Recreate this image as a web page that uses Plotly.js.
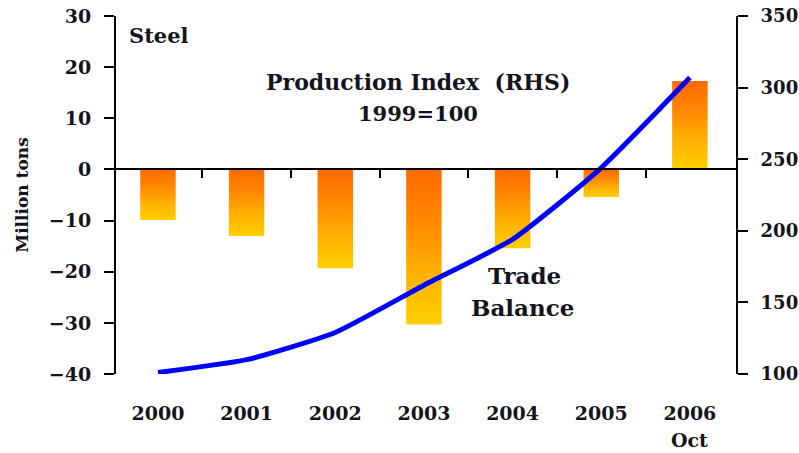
<!DOCTYPE html>
<html>
<head>
<meta charset="utf-8">
<script src="https://cdn.plot.ly/plotly-3.0.1.min.js"></script>
<style>
html,body{margin:0;padding:0;background:#fff;}
#chart{width:799px;height:453px;}
</style>
</head>
<body>
<div id="chart"></div>
<script>
// Data
const years = ["2000", "2001", "2002", "2003", "2004", "2005", "2006"];
const tradeBalance = [-9.9, -13.0, -19.3, -30.3, -15.4, -5.4, 17.3];      // Million tons (LHS)
const productionIndex = [101, 110, 129, 162, 194, 244, 307];               // 1999=100 (RHS)
const leftTicks = [-40, -30, -20, -10, 0, 10, 20, 30];
const rightTicks = [100, 150, 200, 250, 300, 350];
const boundaryTicks = [0.5, 1.5, 2.5, 3.5, 4.5, 5.5];

const FONT = "DejaVu Serif, Liberation Serif, serif";
const TXT = "#141420";

const traces = [
  {
    type: "bar",
    x: years,
    y: tradeBalance,
    width: 0.4,
    marker: {color: "#ff9a00", line: {width: 0}},
    xaxis: "x",
    yaxis: "y",
    hoverinfo: "skip"
  },
  {
    type: "scatter",
    mode: "lines",
    x: [0, 1, 2, 3, 4, 5, 6],
    y: productionIndex,
    line: {color: "#0000ff", width: 5, shape: "spline", smoothing: 0.5},
    xaxis: "x2",
    yaxis: "y2",
    hoverinfo: "skip"
  }
];

const xr = [-0.473, 6.52];
const tickFont = {family: FONT, size: 19, color: TXT, weight: "bold"};
const rightFont = {family: FONT, size: 18, color: TXT, weight: "bold"};
const annFont = function (s) { return {family: FONT, size: s, color: TXT, weight: "bold"}; };

const layout = {
  width: 799,
  height: 453,
  margin: {l: 116, r: 63, t: 16, b: 79, pad: 0},
  paper_bgcolor: "#ffffff",
  plot_bgcolor: "#ffffff",
  showlegend: false,
  xaxis: {
    type: "category",
    range: xr,
    showline: false,
    showgrid: false,
    zeroline: false,
    ticks: "",
    tickfont: tickFont,
    ticklabelstandoff: 26,
    fixedrange: true
  },
  xaxis2: {
    type: "linear",
    overlaying: "x",
    range: xr,
    anchor: "free",
    position: 40 / 70,
    showline: true,
    linecolor: "#000",
    linewidth: 2,
    showgrid: false,
    zeroline: false,
    tickmode: "array",
    tickvals: boundaryTicks,
    ticks: "outside",
    ticklen: 8,
    tickwidth: 2,
    tickcolor: "#000",
    showticklabels: false
  },
  yaxis: {
    range: [-40, 30],
    tickmode: "array",
    tickvals: leftTicks,
    showline: true,
    linecolor: "#000",
    linewidth: 2,
    ticks: "outside",
    ticklen: 10,
    tickwidth: 2,
    tickcolor: "#000",
    showgrid: false,
    zeroline: false,
    tickfont: tickFont,
    ticklabelstandoff: 9,
    title: {text: "Million tons", font: {family: FONT, size: 17, color: TXT, weight: "bold"}, standoff: 16}
  },
  yaxis2: {
    overlaying: "y",
    side: "right",
    anchor: "x",
    range: [100, 350],
    tickmode: "array",
    tickvals: rightTicks,
    showline: true,
    linecolor: "#000",
    linewidth: 2,
    ticks: "outside",
    ticklen: 10,
    tickwidth: 2,
    tickcolor: "#000",
    showgrid: false,
    zeroline: false,
    tickfont: rightFont,
    ticklabelstandoff: 9
  },
  yaxis3: {
    overlaying: "y",
    side: "right",
    anchor: "x",
    range: [100, 350],
    tickmode: "array",
    tickvals: rightTicks,
    showline: false,
    ticks: "inside",
    ticklen: 8,
    tickwidth: 2,
    tickcolor: "#000",
    showgrid: false,
    zeroline: false,
    showticklabels: false
  },
  annotations: [
    {text: "Steel", xref: "x", yref: "y", x: -0.35, y: 26.2, xanchor: "left", yanchor: "middle", showarrow: false, font: annFont(21)},
    {text: "Production Index  (RHS)", xref: "x", yref: "y", x: 2.93, y: 17.1, xanchor: "center", yanchor: "middle", showarrow: false, font: annFont(22)},
    {text: "1999=100", xref: "x", yref: "y", x: 2.93, y: 11.0, xanchor: "center", yanchor: "middle", showarrow: false, font: annFont(21)},
    {text: "Trade", xref: "x", yref: "y", x: 4.13, y: -20.7, xanchor: "center", yanchor: "middle", showarrow: false, font: annFont(23)},
    {text: "Balance", xref: "x", yref: "y", x: 4.11, y: -26.9, xanchor: "center", yanchor: "middle", showarrow: false, font: annFont(23)},
    {text: "Oct", xref: "x", yref: "paper", x: 6, y: 0, yshift: -66, xanchor: "center", yanchor: "middle", showarrow: false, font: annFont(19)}
  ]
};

function applyGradient(gd) {
  const svg = gd.querySelector("svg.main-svg");
  if (!svg) return;
  let defs = svg.querySelector("defs");
  if (!defs) {
    defs = document.createElementNS("http://www.w3.org/2000/svg", "defs");
    svg.insertBefore(defs, svg.firstChild);
  }
  if (!svg.querySelector("#barGrad")) {
    const g = document.createElementNS("http://www.w3.org/2000/svg", "linearGradient");
    g.setAttribute("id", "barGrad");
    g.setAttribute("x1", "0"); g.setAttribute("y1", "0");
    g.setAttribute("x2", "0"); g.setAttribute("y2", "1");
    [["0", "#ff6a00"], ["0.3", "#ff8400"], ["0.7", "#ffb400"], ["1", "#ffcf00"]].forEach(function (s) {
      const st = document.createElementNS("http://www.w3.org/2000/svg", "stop");
      st.setAttribute("offset", s[0]);
      st.setAttribute("stop-color", s[1]);
      g.appendChild(st);
    });
    defs.appendChild(g);
  }
  gd.querySelectorAll(".bars .point path").forEach(function (p) {
    p.style.fill = "url(#barGrad)";
  });
}

const gd = document.getElementById("chart");
Plotly.newPlot(gd, traces, layout, {staticPlot: true, displayModeBar: false}).then(function () {
  applyGradient(gd);
  gd.on("plotly_afterplot", function () { applyGradient(gd); });
});
</script>
</body>
</html>
